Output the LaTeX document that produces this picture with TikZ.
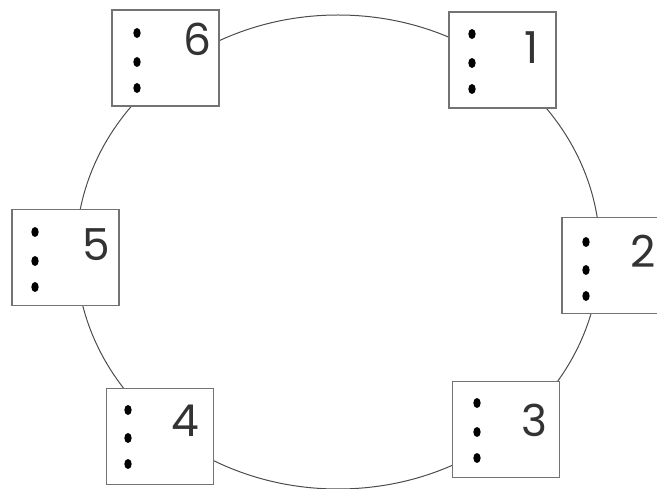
\documentclass[tikz,border=0pt]{standalone}
\usepackage{fontspec}
\setmainfont{Poppins}
\begin{document}
\begin{tikzpicture}[x=1pt,y=-1pt,
  station/.style={draw=black!55,line width=1.3pt,fill=white,minimum width=107pt,minimum height=96pt,inner sep=0pt},
  numlabel/.style={font=\fontsize{44}{44}\selectfont,text=black!80,inner sep=0pt},
  ringline/.style={draw=black!70,line width=1pt}]
\useasboundingbox (0,0) rectangle (657,489);
\draw[ringline] (338,252) ellipse [x radius=262, y radius=237];
\node[station] (b6) at (165.5,58) {};
\node[station] (b1) at (502.5,60) {};
\node[station] (b2) at (615.5,265.5) {};
\node[station] (b5) at (65.5,257.5) {};
\node[station] (b4) at (160,436.5) {};
\node[station] (b3) at (506,429.5) {};
\foreach \x/\ya/\yb/\yc in {137/33/62/88, 472/34/63/89, 586/242/270/296, 35/232/261/287, 128/410/438/464, 477/403/432/458}{
  \fill (\x,\ya) ellipse [x radius=3.7, y radius=5];
  \fill (\x,\yb) ellipse [x radius=3.7, y radius=5];
  \fill (\x,\yc) ellipse [x radius=3.7, y radius=5];
}
\node[numlabel] (n6) at (197,39) {6};
\node[numlabel] (n1) at (532,48) {1};
\node[numlabel] (n2) at (643,251) {2};
\node[numlabel] (n5) at (96,245) {5};
\node[numlabel] (n4) at (185,421) {4};
\node[numlabel] (n3) at (534,420) {3};
\end{tikzpicture}
\end{document}
